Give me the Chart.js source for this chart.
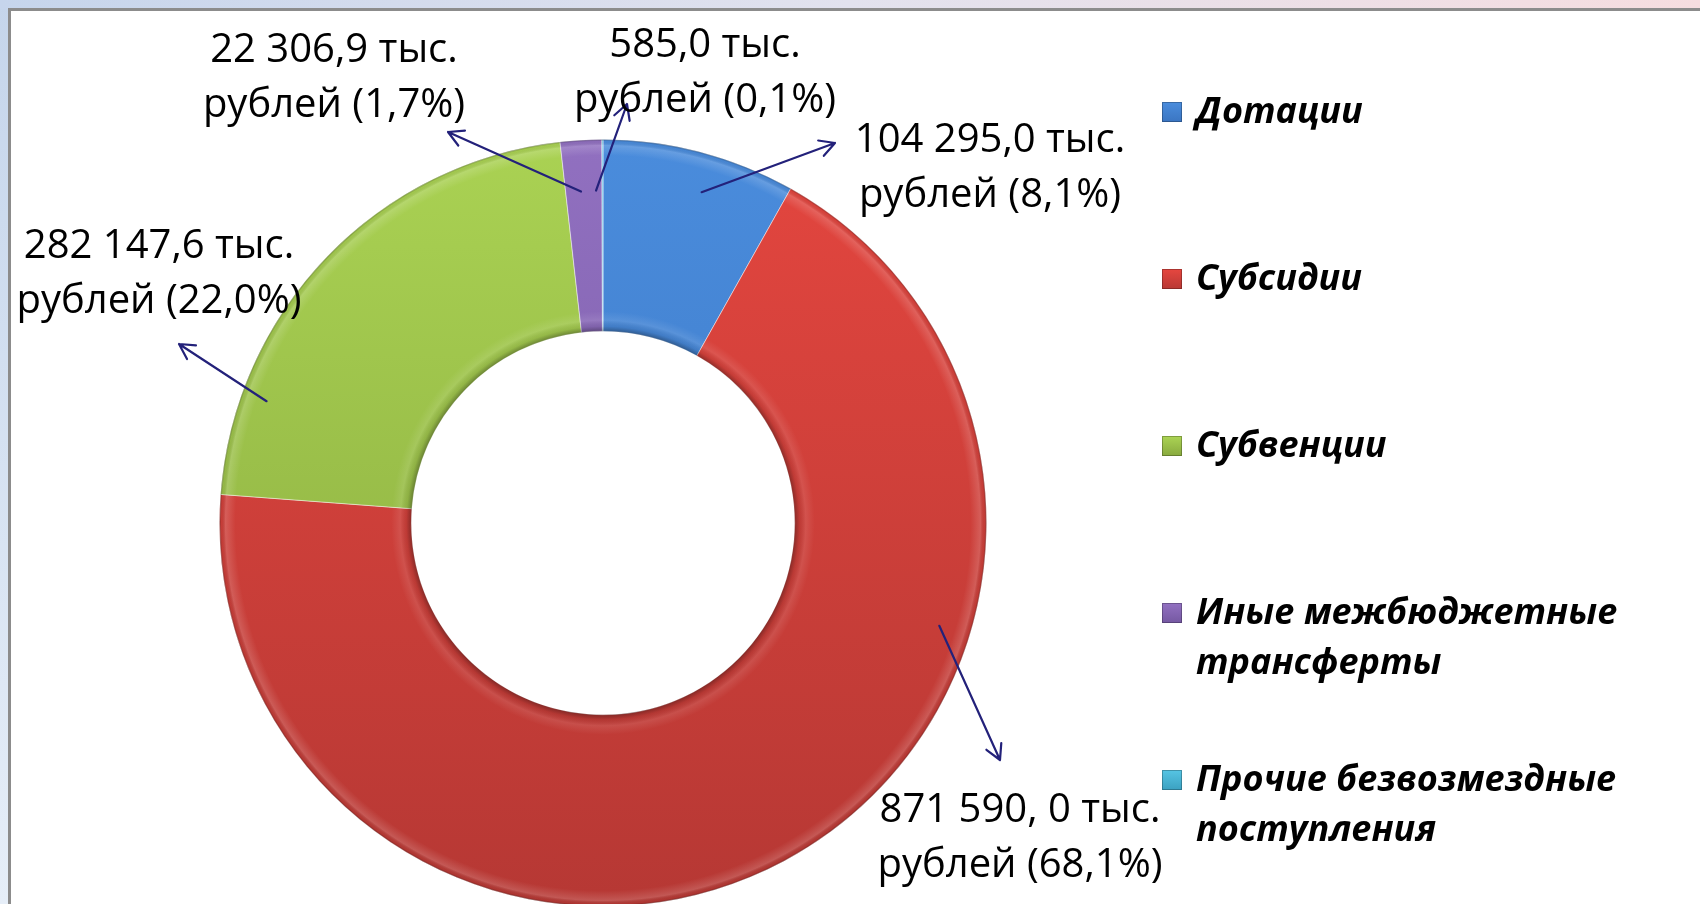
<!DOCTYPE html>
<html lang="ru">
<head>
<meta charset="utf-8">
<title>Безвозмездные поступления</title>
<script src="https://cdn.jsdelivr.net/npm/chart.js@4.4.1/dist/chart.umd.min.js"></script>
<style>
  html, body { margin: 0; padding: 0; width: 1700px; height: 904px; overflow: hidden; }
  body { position: relative; background: linear-gradient(to bottom, #c5d5eb, #e6eef8); }
  #topband { position: absolute; left: 0; top: 0; width: 1700px; height: 9px;
             background: linear-gradient(to right, #c6d5ec, #e2e2ee 50%, #f6dde0); }
  #panel { position: absolute; left: 8px; top: 8px; width: 1700px; height: 1000px;
           background: #fff; border-left: 3px solid #8c8c8c; border-top: 3px solid #8c8c8c; }
  #chart { position: absolute; left: 0; top: 0; }
</style>
</head>
<body>
<div id="topband"></div>
<div id="panel"></div>
<canvas id="chart" width="1700" height="1000"></canvas>
<script>
// data (тыс. рублей)
const categories = ['Дотации', 'Субсидии', 'Субвенции', 'Иные межбюджетные трансферты', 'Прочие безвозмездные поступления'];
const amounts = [104295.0, 871590.0, 282147.6, 22306.9, 585.0];
const amountLabels = ['104 295,0 тыс.', '871 590, 0 тыс.', '282 147,6 тыс.', '22 306,9 тыс.', '585,0 тыс.'];
const shareLabels = ['рублей (8,1%)', 'рублей (68,1%)', 'рублей (22,0%)', 'рублей (1,7%)', 'рублей (0,1%)'];

// colours: [top, bottom] of each slice's shading
const sliceColors = [
    ['#4a8cdc', '#3a74c0'],
    ['#e4463f', '#b63834'],
    ['#aad253', '#86a73d'],
    ['#9170c0', '#7357a0'],
    ['#55c3e2', '#3a9fbf']
];

// callout layout
const labelPos = [
    { x: 990, y: 141 }, { x: 1020, y: 811 }, { x: 159, y: 247 }, { x: 334, y: 51 }, { x: 705, y: 46 }
];
const lineGap = 55;
const arrowFrom = [
    { a: 16.6, r: 0.90 }, { a: 107, r: 0.917 }, { a: -70.1, r: 0.933 }, { a: -3.8, r: 0.866 }, { a: -1.2, r: 0.867 }
];
const arrowTo = [
    { x: 835, y: 143 }, { x: 1000, y: 760 }, { x: 179, y: 344 }, { x: 448, y: 132 }, { x: 627, y: 104 }
];

const labelFont = '40px "Open Sans"';
const legendFont = 'italic bold 36px "Open Sans"';

function sliceFill(context) {
    const chart = context.chart;
    const area = chart.chartArea;
    if (!area) return sliceColors[context.dataIndex][0];
    const c = sliceColors[context.dataIndex];
    const g = chart.ctx.createLinearGradient(0, area.top, 0, area.bottom);
    g.addColorStop(0, c[0]);
    g.addColorStop(1, c[1]);
    return g;
}

function drawArrow(ctx, x1, y1, x2, y2) {
    const ang = Math.atan2(y2 - y1, x2 - x1);
    const len = 17;
    ctx.beginPath();
    ctx.moveTo(x1, y1);
    ctx.lineTo(x2, y2);
    ctx.moveTo(x2 - len * Math.cos(ang - 0.5), y2 - len * Math.sin(ang - 0.5));
    ctx.lineTo(x2, y2);
    ctx.lineTo(x2 - len * Math.cos(ang + 0.5), y2 - len * Math.sin(ang + 0.5));
    ctx.stroke();
}

function wrapText(ctx, text, maxWidth) {
    const words = text.split(' ');
    const lines = [];
    let line = '';
    words.forEach(w => {
        const test = line ? line + ' ' + w : w;
        if (line && ctx.measureText(test).width > maxWidth) {
            lines.push(line);
            line = w;
        } else {
            line = test;
        }
    });
    if (line) lines.push(line);
    return lines;
}

const bevelPlugin = {
    id: 'bevel',
    afterDatasetsDraw(chart) {
        const ctx = chart.ctx;
        const arc = chart.getDatasetMeta(0).data[0];
        const p = arc.getProps(['x', 'y', 'innerRadius', 'outerRadius'], true);
        const r0 = p.innerRadius, r1 = p.outerRadius;
        const t = px => px / (r1 - r0);
        const g = ctx.createRadialGradient(p.x, p.y, r0, p.x, p.y, r1);
        g.addColorStop(0, 'rgba(0,0,0,0.32)');
        g.addColorStop(t(5), 'rgba(0,0,0,0.07)');
        g.addColorStop(t(11), 'rgba(255,255,255,0.10)');
        g.addColorStop(t(20), 'rgba(255,255,255,0)');
        g.addColorStop(1 - t(16), 'rgba(255,255,255,0)');
        g.addColorStop(1 - t(6), 'rgba(255,255,255,0.16)');
        g.addColorStop(1 - t(2), 'rgba(0,0,0,0.04)');
        g.addColorStop(1, 'rgba(0,0,0,0.30)');
        ctx.save();
        ctx.beginPath();
        ctx.arc(p.x, p.y, r1, 0, Math.PI * 2);
        ctx.arc(p.x, p.y, r0, 0, Math.PI * 2, true);
        ctx.fillStyle = g;
        ctx.fill();
        ctx.restore();
    }
};

const calloutPlugin = {
    id: 'callouts',
    afterDraw(chart) {
        const ctx = chart.ctx;
        ctx.save();
        ctx.strokeStyle = '#23217a';
        ctx.lineWidth = 2.2;
        ctx.lineCap = 'round';
        ctx.lineJoin = 'round';
        chart.getDatasetMeta(0).data.forEach((arc, i) => {
            const p = arc.getProps(['x', 'y', 'outerRadius'], true);
            const a = arrowFrom[i].a * Math.PI / 180;
            const sx = p.x + Math.sin(a) * p.outerRadius * arrowFrom[i].r;
            const sy = p.y - Math.cos(a) * p.outerRadius * arrowFrom[i].r;
            drawArrow(ctx, sx, sy, arrowTo[i].x, arrowTo[i].y);
        });
        ctx.fillStyle = '#000';
        ctx.font = labelFont;
        ctx.textAlign = 'center';
        ctx.textBaseline = 'middle';
        amounts.forEach((v, i) => {
            ctx.fillText(amountLabels[i], labelPos[i].x, labelPos[i].y);
            ctx.fillText(shareLabels[i], labelPos[i].x, labelPos[i].y + lineGap);
        });
        ctx.restore();
    }
};

const legendPlugin = {
    id: 'sideLegend',
    afterDraw(chart) {
        const ctx = chart.ctx;
        const boxX = 1162, boxSize = 20, textX = 1196, top = 113, step = 167, lineH = 50;
        ctx.save();
        ctx.font = legendFont;
        ctx.textAlign = 'left';
        ctx.textBaseline = 'middle';
        categories.forEach((name, i) => {
            const y = top + i * step;
            const c = sliceColors[i];
            const g = ctx.createLinearGradient(0, y - boxSize / 2, 0, y + boxSize / 2);
            g.addColorStop(0, c[0]);
            g.addColorStop(1, c[1]);
            ctx.fillStyle = g;
            ctx.fillRect(boxX, y - boxSize / 2 - 1, boxSize, boxSize);
            ctx.strokeStyle = 'rgba(0,0,0,0.25)';
            ctx.lineWidth = 1;
            ctx.strokeRect(boxX + 0.5, y - boxSize / 2 - 0.5, boxSize - 1, boxSize - 1);
            ctx.fillStyle = '#000';
            wrapText(ctx, name, 1700 - textX - 20).forEach((ln, k) => {
                ctx.fillText(ln, textX, y + k * lineH);
            });
        });
        ctx.restore();
    }
};

function draw() {
    new Chart(document.getElementById('chart').getContext('2d'), {
        type: 'doughnut',
        data: {
            labels: categories,
            datasets: [{
                data: amounts,
                backgroundColor: sliceFill,
                borderColor: 'rgba(255,255,255,0.45)',
                borderWidth: 1
            }]
        },
        options: {
            responsive: false,
            animation: false,
            devicePixelRatio: 1,
            cutout: '50%',
            rotation: 0,
            layout: { padding: { left: 219, right: 713, top: 139, bottom: 93 } },
            plugins: {
                legend: { display: false },
                tooltip: { enabled: false }
            }
        },
        plugins: [bevelPlugin, calloutPlugin, legendPlugin]
    });
}

Promise.all([
    document.fonts.load(labelFont),
    document.fonts.load(legendFont)
]).then(draw, draw);
</script>
</body>
</html>
